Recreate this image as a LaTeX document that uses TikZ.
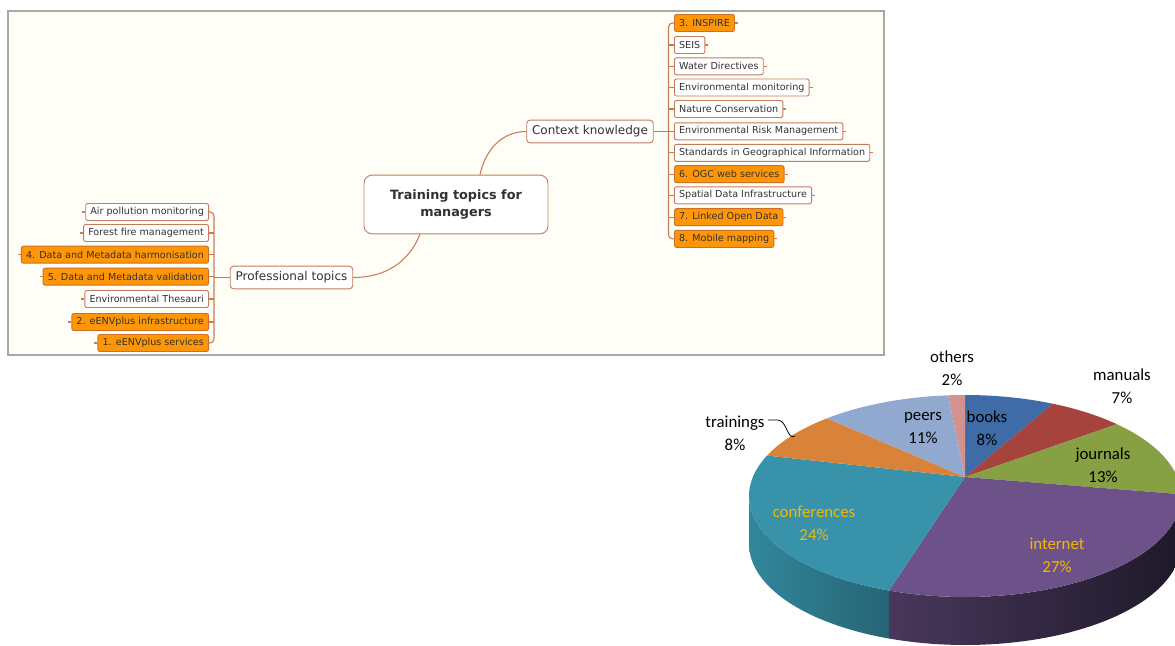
\documentclass[tikz,border=0pt]{standalone}
\usepackage{fontspec}
\usepackage{xcolor}
\usepackage{tikz}
\usetikzlibrary{calc}
\newfontfamily\mapfont{DejaVu Sans}
\newfontfamily\piefont{Carlito}
\definecolor{mapback}{RGB}{255,254,246}
\definecolor{framegray}{RGB}{168,168,168}
\definecolor{mapline}{RGB}{196,124,92}
\definecolor{maporange}{RGB}{255,150,8}
\definecolor{maporangeline}{RGB}{204,112,40}
\definecolor{maptext}{RGB}{50,50,50}
\definecolor{pbooks}{RGB}{63,108,166}
\definecolor{pmanuals}{RGB}{166,67,60}
\definecolor{pjournals}{RGB}{135,160,68}
\definecolor{pinternet}{RGB}{109,82,137}
\definecolor{pconf}{RGB}{56,146,170}
\definecolor{ptrain}{RGB}{216,130,58}
\definecolor{ppeers}{RGB}{146,169,207}
\definecolor{pothers}{RGB}{210,146,144}
\definecolor{confsideA}{RGB}{50,135,155}
\definecolor{confsideB}{RGB}{38,100,116}
\definecolor{netsideA}{RGB}{72,56,92}
\definecolor{netsideB}{RGB}{30,25,41}
\definecolor{goldlabel}{RGB}{245,184,0}

\begin{document}
\begin{tikzpicture}[x=0.75pt,y=0.75pt,yscale=-1,xscale=1,
  leaf/.style={draw=mapline, fill=white, rounded corners=1.5pt, line width=0.7pt, text=maptext, font=\mapfont\fontsize{7.2}{8.5}\selectfont, inner xsep=3.5pt, inner ysep=0pt, minimum height=12.75pt},
  hot/.style={leaf, fill=maporange, draw=maporangeline},
  topic/.style={leaf, font=\mapfont\fontsize{9}{11}\selectfont, minimum height=17pt, rounded corners=2.5pt, inner xsep=4pt},
  link/.style={draw=mapline, line width=0.8pt},
  pielabel/.style={align=center, inner sep=0pt, font=\piefont\fontsize{12.6}{17}\selectfont},
]
\useasboundingbox (0,0) rectangle (1175,646);
\clip (0,0) rectangle (1175,646);

%Shape: Rectangle [id:mapframe]
\draw [draw=framegray, fill=mapback, line width=0.9pt] (8,11) rectangle (884,355);

% Central topic
\node [topic, font=\mapfont\bfseries\fontsize{9.6}{13}\selectfont, align=center, minimum width=138pt, minimum height=44pt, rounded corners=6pt] (root) at (456,204.5) {Training topics for\\managers};
% Main topics
\node [topic] (prof) at (291.5,277.5) {Professional topics};
\node [topic] (ctx) at (590,131.5) {Context knowledge};

% Left subtopics
\node [leaf, anchor=east] (air) at (209,212) {Air pollution monitoring};
\node [leaf, anchor=east] (fire) at (209,233) {Forest fire management};
\node [hot, anchor=east] (harm) at (209,254.7) {4. Data and Metadata harmonisation};
\node [hot, anchor=east] (valid) at (209,276.7) {5. Data and Metadata validation};
\node [leaf, anchor=east] (thes) at (209,299) {Environmental Thesauri};
\node [hot, anchor=east] (infra) at (209,322) {2. eENVplus infrastructure};
\node [hot, anchor=east] (serv) at (209,343) {1. eENVplus services};

% Right subtopics
\node [hot, anchor=west] (inspire) at (674,23) {3. INSPIRE};
\node [leaf, anchor=west] (seis) at (674,45) {SEIS};
\node [leaf, anchor=west] (water) at (674,66.3) {Water Directives};
\node [leaf, anchor=west] (envmon) at (674,87.5) {Environmental monitoring};
\node [leaf, anchor=west] (nature) at (674,109) {Nature Conservation};
\node [leaf, anchor=west] (risk) at (674,131.3) {Environmental Risk Management};
\node [leaf, anchor=west] (stand) at (674,152.8) {Standards in Geographical Information};
\node [hot, anchor=west] (ogc) at (674,174.2) {6. OGC web services};
\node [leaf, anchor=west] (sdi) at (674,195.3) {Spatial Data Infrastructure};
\node [hot, anchor=west] (lod) at (674,217.2) {7. Linked Open Data};
\node [hot, anchor=west] (mobile) at (674,238.8) {8. Mobile mapping};

% Branches
\draw [link] ($(root.north)+(24,0)$) to[out=-78,in=180] (ctx.west);
\draw [link] ($(root.south)+(-36,0)$) to[out=112,in=0] (prof.east);

\coordinate (lbus) at (214,277.5);
\draw [link, rounded corners=3pt] (air.east) -| (lbus) |- (serv.east);
\foreach \n in {fire,harm,valid,thes,infra}
  \draw [link] (\n.east) -- (\n.east -| lbus);
\draw [link] (prof.west) -- (lbus);
\foreach \n in {air,fire,harm,valid,thes,infra,serv}
  \draw [link] (\n.west) -- ++(-3,0);

\coordinate (rbus) at (668.5,131.5);
\draw [link, rounded corners=3pt] (inspire.west) -| (rbus) |- (mobile.west);
\foreach \n in {seis,water,envmon,nature,risk,stand,ogc,sdi,lod}
  \draw [link] (\n.west) -- (\n.west -| rbus);
\draw [link] (ctx.east) -- (rbus);
\foreach \n in {inspire,seis,water,envmon,nature,risk,stand,ogc,sdi,lod,mobile}
  \draw [link] (\n.east) -- ++(3,0);

%Pie chart: side wall
\shade [left color=confsideA, right color=confsideB] plot[domain=180:249.4,samples=40] ({965+216*cos(\x)},{496-101*sin(\x)}) -- plot[domain=249.4:180,samples=40] ({965+216*cos(\x)},{544-101*sin(\x)}) -- cycle;
\shade [left color=netsideA, right color=netsideB] plot[domain=249.4:360,samples=50] ({965+216*cos(\x)},{496-101*sin(\x)}) -- plot[domain=360:249.4,samples=50] ({965+216*cos(\x)},{544-101*sin(\x)}) -- cycle;

%Pie chart: top face
\coordinate (pc) at (965,477);
\fill [pbooks] (pc) -- plot[domain=66:90,samples=20] ({965+216*cos(\x)},{496-101*sin(\x)}) -- cycle;
\fill [pmanuals] (pc) -- plot[domain=45.3:66,samples=20] ({965+216*cos(\x)},{496-101*sin(\x)}) -- cycle;
\fill [pjournals] (pc) -- plot[domain=1:45.3,samples=30] ({965+216*cos(\x)},{496-101*sin(\x)}) -- cycle;
\fill [pinternet] (pc) -- plot[domain=-110.6:1,samples=60] ({965+216*cos(\x)},{496-101*sin(\x)}) -- cycle;
\fill [pconf] (pc) -- plot[domain=156.4:249.4,samples=60] ({965+216*cos(\x)},{496-101*sin(\x)}) -- cycle;
\fill [ptrain] (pc) -- plot[domain=129.7:156.4,samples=20] ({965+216*cos(\x)},{496-101*sin(\x)}) -- cycle;
\fill [ppeers] (pc) -- plot[domain=94.5:129.7,samples=20] ({965+216*cos(\x)},{496-101*sin(\x)}) -- cycle;
\fill [pothers] (pc) -- plot[domain=90:94.5,samples=5] ({965+216*cos(\x)},{496-101*sin(\x)}) -- cycle;

% Pie labels
\node [pielabel] (lothers) at (952,368) {others\\2\%};
\node [pielabel] (lmanuals) at (1122,386.5) {manuals\\7\%};
\node [pielabel] (lbooks) at (987,428) {books\\8\%};
\node [pielabel] (lpeers) at (923,428) {peers\\11\%};
\node [pielabel] (ljournals) at (1103,465.5) {journals\\13\%};
\node [pielabel] (ltrain) at (735,433.5) {trainings\\8\%};
\node [pielabel, text=goldlabel] (lconf) at (814,523.5) {conferences\\24\%};
\node [pielabel, text=goldlabel] (lnet) at (1057,555.5) {internet\\27\%};
\coordinate (trainpt) at (795,436);
\draw [line width=0.6pt] ($(ltrain.north east)+(3,4)$) -- ++(10,0) to[out=0,in=150] (trainpt);
\end{tikzpicture}
\end{document}
